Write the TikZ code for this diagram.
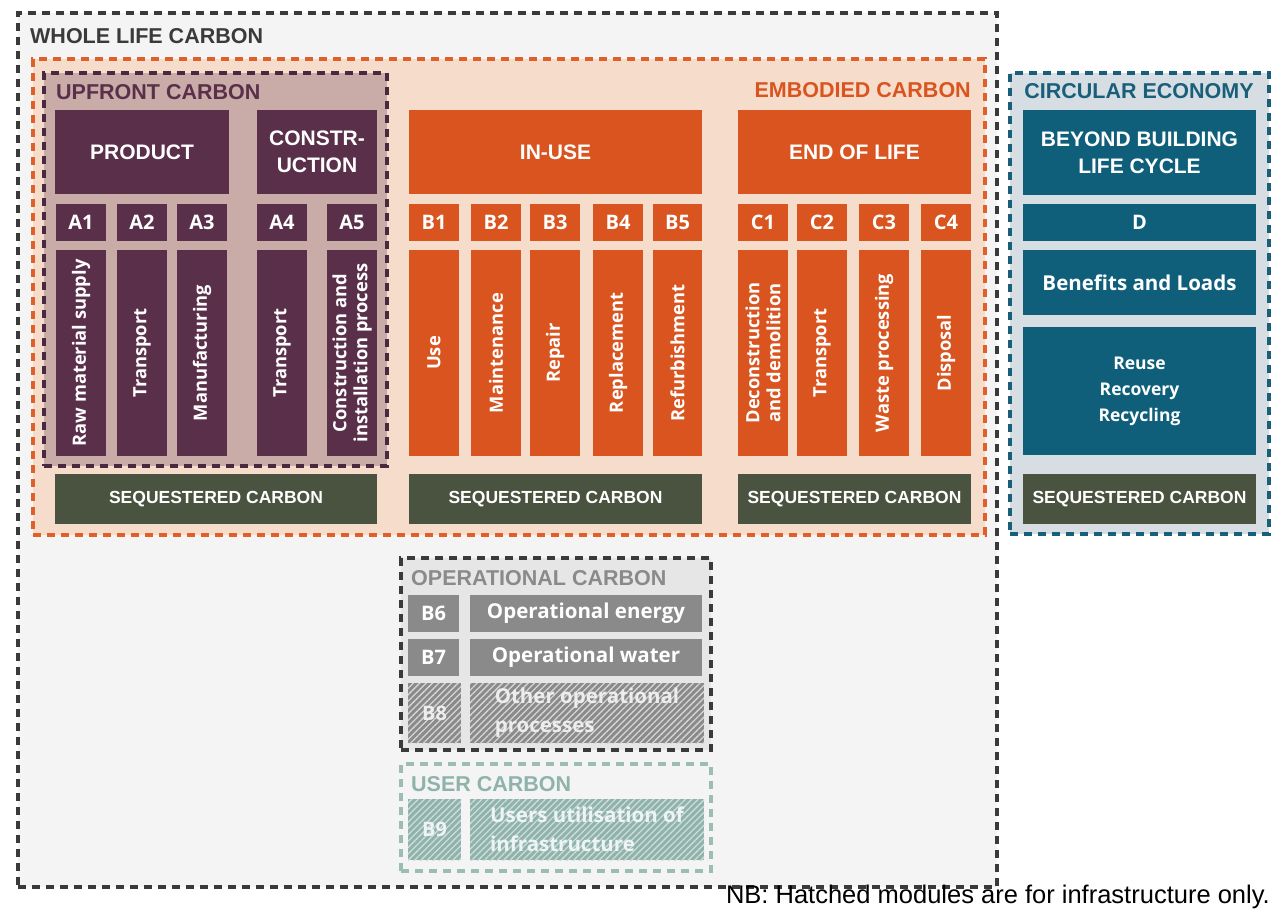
\documentclass[tikz,border=0pt]{standalone}
\usepackage{fontspec}
\setmainfont{Open Sans}
\newfontfamily\hf{Liberation Sans}
\newfontfamily\nbf{Liberation Sans}
\usetikzlibrary{patterns.meta}
\definecolor{cpurp}{HTML}{5A2F4A}
\definecolor{cpurpd}{HTML}{4A2840}
\definecolor{corng}{HTML}{D9541F}
\definecolor{corngd}{HTML}{E0602A}
\definecolor{cteal}{HTML}{0F5F7B}
\definecolor{ctealt}{HTML}{1A5F7A}
\definecolor{colive}{HTML}{4A5240}
\definecolor{cgrayd}{HTML}{3A3A3A}
\definecolor{cbgout}{HTML}{F4F4F4}
\definecolor{cbgemb}{HTML}{F6DCCB}
\definecolor{cbgup}{HTML}{C9ACA8}
\definecolor{cbgce}{HTML}{D6DEE4}
\definecolor{cbgop}{HTML}{E6E6E6}
\definecolor{copbox}{HTML}{8A8A8A}
\definecolor{copt}{HTML}{8A8A8A}
\definecolor{cuser}{HTML}{8FB3AB}
\definecolor{cuserf}{HTML}{9CBDB5}
\newcommand\bx[7]{\node[#6, minimum width={(#4)-(#2)}, minimum height={(#5)-(#3)}] (#1) at ({((#2)+(#4))/2},{((#3)+(#5))/2}) {#7};}
\newcommand\vbx[7]{\node[#6, rotate=90, minimum width={(#5)-(#3)}, minimum height={(#4)-(#2)}] (#1) at ({((#2)+(#4))/2},{((#3)+(#5))/2}) {#7};}
\begin{document}
\begin{tikzpicture}[x=1pt,y=-1pt,
  box/.style={inner sep=0pt, outer sep=0pt, text=white, align=center},
  frame/.style={inner sep=0pt, outer sep=0pt, line width=3.2pt, dash pattern=on 8pt off 6pt},
  head/.style={inner sep=0pt, font=\hf\bfseries\fontsize{21.5}{24}\selectfont},
  big/.style={font=\hf\bfseries\fontsize{21}{27}\selectfont},
  seq/.style={box, fill=colive, font=\hf\bfseries\fontsize{17.5}{20}\selectfont},
  modl/.style={font=\bfseries\fontsize{20}{22}\selectfont},
  vert/.style={font=\bfseries\fontsize{18.3}{21}\selectfont},
  body/.style={font=\bfseries\fontsize{20.5}{23}\selectfont},
  pb/.style={box, fill=cpurp},
  ob/.style={box, fill=corng},
  tb/.style={box, fill=cteal},
  gb/.style={box, fill=copbox},
  hatchg/.style={box, fill=copbox, postaction={pattern={Lines[angle=45,distance=4.5pt,line width=1.3pt]}, pattern color=white!65!copbox}},
  hatchu/.style={box, fill=cuser, postaction={pattern={Lines[angle=45,distance=4.5pt,line width=1.3pt]}, pattern color=white!55!cuser}}
]
\useasboundingbox[fill=white] (0,0) rectangle (1272,912);
% frames
\bx{wlc}{18}{13}{997}{887}{frame, draw=cgrayd, fill=cbgout}{}
\bx{emb}{33}{59}{985}{535}{frame, draw=corngd, fill=cbgemb}{}
\bx{upf}{44}{73}{387}{466}{frame, draw=cpurpd, fill=cbgup}{}
\bx{cec}{1010}{73}{1269}{534}{frame, draw=ctealt, fill=cbgce}{}
\bx{opc}{401}{558}{711}{750}{frame, draw=cgrayd, fill=cbgop}{}
\bx{usc}{401}{764}{711}{871}{frame, draw=cuserf, fill=cbgout}{}
% headings
\node[head, text=cgrayd, anchor=west] (t-wlc) at (30,36) {WHOLE LIFE CARBON};
\node[head, text=cpurp, anchor=west] (t-upf) at (56,92) {UPFRONT CARBON};
\node[head, text=corng, anchor=east] (t-emb) at (971,90) {EMBODIED CARBON};
\node[head, text=ctealt, anchor=center] (t-cec) at (1139,91) {CIRCULAR ECONOMY};
\node[head, text=copt, anchor=west] (t-opc) at (411,578) {OPERATIONAL CARBON};
\node[head, text=cuser, anchor=west] (t-usc) at (411,784) {USER CARBON};
% upfront
\bx{prod}{55}{110}{229}{194}{pb, big}{PRODUCT}
\bx{cons}{257}{110}{377}{194}{pb, big}{CONSTR-\\UCTION}
\bx{a1}{56}{204}{106}{241}{pb, modl}{A1}
\bx{a2}{117}{204}{167}{241}{pb, modl}{A2}
\bx{a3}{177}{204}{227}{241}{pb, modl}{A3}
\bx{a4}{257}{204}{307}{241}{pb, modl}{A4}
\bx{a5}{327}{204}{377}{241}{pb, modl}{A5}
\vbx{a1t}{56}{250}{106}{456}{pb, vert}{Raw material supply}
\vbx{a2t}{117}{250}{167}{456}{pb, vert}{Transport}
\vbx{a3t}{177}{250}{227}{456}{pb, vert}{Manufacturing}
\vbx{a4t}{257}{250}{307}{456}{pb, vert}{Transport}
\vbx{a5t}{327}{250}{377}{456}{pb, vert}{Construction and\\installation process}
\bx{sq1}{55}{474}{377}{524}{seq}{SEQUESTERED CARBON}
% in-use
\bx{inuse}{409}{110}{702}{194}{ob, big}{IN-USE}
\bx{b1}{409}{204}{459}{241}{ob, modl}{B1}
\bx{b2}{471}{204}{521}{241}{ob, modl}{B2}
\bx{b3}{530}{204}{580}{241}{ob, modl}{B3}
\bx{b4}{593}{204}{643}{241}{ob, modl}{B4}
\bx{b5}{653}{204}{702}{241}{ob, modl}{B5}
\vbx{b1t}{409}{250}{459}{456}{ob, vert}{Use}
\vbx{b2t}{471}{250}{521}{456}{ob, vert}{Maintenance}
\vbx{b3t}{530}{250}{580}{456}{ob, vert}{Repair}
\vbx{b4t}{593}{250}{643}{456}{ob, vert}{Replacement}
\vbx{b5t}{653}{250}{702}{456}{ob, vert}{Refurbishment}
\bx{sq2}{409}{474}{702}{524}{seq}{SEQUESTERED CARBON}
% end of life
\bx{eol}{738}{110}{971}{194}{ob, big}{END OF LIFE}
\bx{c1}{738}{204}{788}{241}{ob, modl}{C1}
\bx{c2}{797}{204}{847}{241}{ob, modl}{C2}
\bx{c3}{859}{204}{909}{241}{ob, modl}{C3}
\bx{c4}{921}{204}{971}{241}{ob, modl}{C4}
\vbx{c1t}{738}{250}{788}{456}{ob, vert}{Deconstruction\\and demolition}
\vbx{c2t}{797}{250}{847}{456}{ob, vert}{Transport}
\vbx{c3t}{859}{250}{909}{456}{ob, vert}{Waste processing}
\vbx{c4t}{921}{250}{971}{456}{ob, vert}{Disposal}
\bx{sq3}{738}{474}{971}{524}{seq}{SEQUESTERED CARBON}
% circular economy
\bx{bey}{1023}{110}{1256}{195}{tb, big}{BEYOND BUILDING\\LIFE CYCLE}
\bx{dmod}{1023}{204}{1256}{241}{tb, modl}{D}
\bx{ben}{1023}{250}{1256}{315}{tb, body}{Benefits and Loads}
\bx{reu}{1023}{327}{1256}{455}{tb, font=\bfseries\fontsize{17.5}{26}\selectfont}{Reuse\\Recovery\\Recycling}
\bx{sq4}{1023}{474}{1256}{524}{seq}{SEQUESTERED CARBON}
% operational
\bx{b6}{408}{595}{459}{632}{gb, modl}{B6}
\bx{b6t}{470}{595}{702}{632}{gb, body}{Operational energy}
\bx{b7}{408}{639}{459}{676}{gb, modl}{B7}
\bx{b7t}{470}{639}{702}{676}{gb, body}{Operational water}
\bx{b8}{408}{683}{461}{743}{hatchg, modl, text=white!85!copbox}{B8}
\node[hatchg, font=\bfseries\fontsize{20.5}{29}\selectfont, minimum width=234, minimum height=60, align=left, text=white!85!copbox] (b8t) at (587,713) {Other operational\\processes};
% user
\bx{b9}{408}{799}{461}{860}{hatchu, modl, text=white!85!cuser}{B9}
\node[hatchu, font=\bfseries\fontsize{20.5}{29}\selectfont, minimum width=234, minimum height=61, align=left, text=white!85!cuser] (b9t) at (587,829.5) {Users utilisation of\\infrastructure};
% note
\node[inner sep=0pt, anchor=east, font=\nbf\fontsize{25.5}{28}\selectfont] (nb) at (1270,897) {NB: Hatched modules are for infrastructure only.};
\end{tikzpicture}
\end{document}
